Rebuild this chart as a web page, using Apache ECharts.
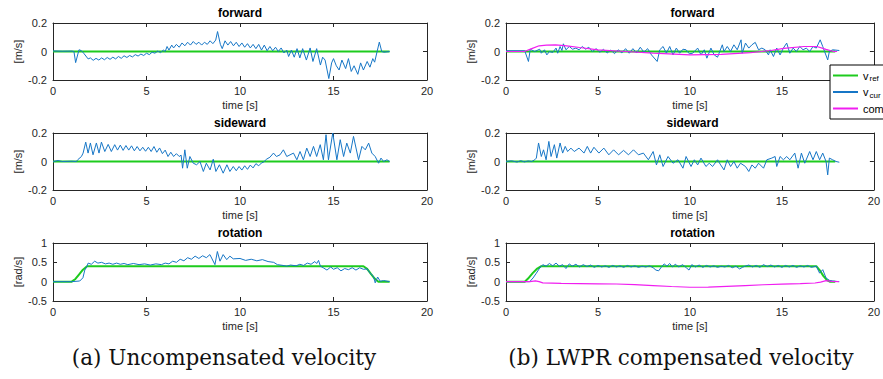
<!DOCTYPE html>
<html>
<head>
<meta charset="utf-8">
<script src="https://cdn.jsdelivr.net/npm/echarts@6/dist/echarts.min.js"></script>
<style>html,body{margin:0;padding:0;background:#fff}#c{width:883px;height:379px}</style>
</head>
<body>
<div id="c"></div>
<script>
// ---------- data (time [s], value) ----------
const panelTitles = ['forward', 'sideward', 'rotation'];
const yUnits = ['[m/s]', '[m/s]', '[rad/s]'];
const captions = ['(a) Uncompensated velocity', '(b) LWPR compensated velocity'];
const xTickValues = [0, 5, 10, 15, 20];

// (a) uncompensated
const refFwdA = [[0,0],[18,0]];
const curFwdA = [[0,0.004],[0.5,0.002],[1.0,0.003],[1.12,0],[1.21,-0.078],[1.39,0.012],[1.52,0.006],[1.64,-0.012],[1.88,-0.052],[2.0,-0.045],[2.15,-0.062],[2.3,-0.048],[2.45,-0.06],[2.6,-0.045],[2.75,-0.058],[2.9,-0.042],[3.05,-0.055],[3.2,-0.04],[3.35,-0.052],[3.5,-0.035],[3.65,-0.048],[3.8,-0.03],[3.95,-0.042],[4.1,-0.028],[4.25,-0.038],[4.4,-0.022],[4.55,-0.032],[4.7,-0.018],[4.85,-0.028],[5.0,-0.012],[5.15,-0.022],[5.3,-0.005],[5.45,-0.012],[5.6,0.003],[5.75,-0.008],[5.9,0.01],[6.0,0.0],[6.1,0.035],[6.2,0.01],[6.35,0.045],[6.45,0.025],[6.6,0.05],[6.75,0.03],[6.9,0.06],[7.05,0.04],[7.2,0.065],[7.35,0.045],[7.5,0.07],[7.65,0.05],[7.8,0.065],[7.95,0.045],[8.1,0.065],[8.25,0.05],[8.4,0.075],[8.55,0.055],[8.7,0.08],[8.8,0.14],[8.95,0.05],[9.05,0.02],[9.2,0.075],[9.35,0.045],[9.5,0.07],[9.65,0.04],[9.8,0.065],[9.95,0.035],[10.1,0.06],[10.25,0.03],[10.4,0.055],[10.55,0.025],[10.7,0.05],[10.85,0.02],[11.0,0.05],[11.15,0.01],[11.3,0.045],[11.45,0.005],[11.6,0.035],[11.75,0.005],[11.9,0.03],[12.05,0.0],[12.2,0.025],[12.35,-0.01],[12.5,0.01],[12.6,-0.035],[12.75,0.01],[12.9,-0.04],[13.05,0.02],[13.2,-0.045],[13.35,0.02],[13.55,-0.06],[13.75,0.025],[13.9,-0.07],[14.1,0.02],[14.3,-0.095],[14.42,-0.04],[14.55,-0.06],[14.75,-0.19],[14.9,-0.08],[15.0,-0.05],[15.15,-0.1],[15.3,-0.13],[15.45,-0.06],[15.65,-0.12],[15.8,-0.05],[15.95,-0.14],[16.1,-0.1],[16.3,-0.16],[16.45,-0.08],[16.6,-0.13],[16.8,-0.07],[16.95,-0.11],[17.1,-0.05],[17.2,-0.075],[17.35,0.01],[17.45,0.066],[17.58,0.0],[17.7,-0.005],[18.0,0.0]];
const refSideA = [[0,0],[18,0]];
const curSideA = [[0,0],[0.27,0.007],[0.5,0.0],[1.0,0.002],[1.25,0.0],[1.32,0.012],[1.52,0.035],[1.61,0.059],[1.75,0.136],[1.875,0.059],[2.0,0.13],[2.14,0.047],[2.32,0.13],[2.46,0.059],[2.59,0.136],[2.77,0.07],[2.95,0.12],[3.12,0.07],[3.3,0.118],[3.45,0.08],[3.6,0.115],[3.75,0.078],[3.9,0.112],[4.05,0.08],[4.2,0.11],[4.35,0.075],[4.5,0.105],[4.65,0.075],[4.8,0.1],[4.95,0.072],[5.1,0.1],[5.25,0.07],[5.4,0.105],[5.55,0.065],[5.7,0.095],[5.85,0.055],[6.0,0.08],[6.15,0.035],[6.3,0.065],[6.45,0.035],[6.6,0.055],[6.75,0.035],[6.85,0.045],[6.93,-0.047],[7.05,0.082],[7.18,-0.047],[7.32,0.035],[7.5,-0.012],[7.68,-0.023],[7.86,0.0],[8.04,-0.07],[8.2,-0.012],[8.4,-0.059],[8.57,0.016],[8.71,-0.07],[8.9,-0.023],[9.1,-0.082],[9.3,-0.023],[9.46,-0.07],[9.64,-0.035],[9.8,-0.065],[9.95,-0.035],[10.1,-0.06],[10.25,-0.03],[10.4,-0.055],[10.55,-0.025],[10.7,-0.045],[10.85,-0.015],[11.0,-0.03],[11.15,-0.01],[11.25,-0.005],[11.43,0.017],[11.6,0.03],[11.79,0.059],[11.95,0.035],[12.14,0.047],[12.32,0.082],[12.5,0.035],[12.86,0.059],[13.04,0.012],[13.21,0.07],[13.39,0.012],[13.57,0.094],[13.75,0.035],[13.93,0.106],[14.1,0.035],[14.29,0.118],[14.46,0.012],[14.6,0.188],[14.73,0.012],[14.96,0.2],[15.18,0.012],[15.36,0.153],[15.54,0.035],[15.71,0.129],[15.9,0.059],[16.07,0.176],[16.34,0.012],[16.52,0.106],[16.7,0.082],[16.88,0.129],[17.05,0.059],[17.23,0.035],[17.41,-0.012],[17.54,0.024],[17.68,0.0],[17.86,0.012],[18.0,0.0]];
const refRotA = [[0,0],[1.0,0],[1.2,0.07],[1.4,0.19],[1.6,0.31],[1.82,0.4],[16.6,0.4],[16.8,0.33],[17.0,0.2],[17.2,0.08],[17.4,0],[18,0]];
const curRotA = [[0,0],[1.0,0.0],[1.43,0.017],[1.6,0.1],[1.7,0.3],[1.82,0.4],[1.88,0.48],[2.05,0.45],[2.23,0.53],[2.4,0.48],[2.6,0.5],[2.8,0.46],[3.0,0.48],[3.2,0.45],[3.4,0.48],[3.6,0.45],[3.8,0.47],[4.0,0.44],[4.3,0.47],[4.6,0.44],[4.9,0.46],[5.2,0.43],[5.5,0.46],[5.8,0.44],[6.0,0.48],[6.2,0.46],[6.4,0.53],[6.6,0.5],[6.8,0.58],[7.0,0.54],[7.2,0.62],[7.4,0.58],[7.6,0.66],[7.8,0.6],[8.0,0.67],[8.2,0.62],[8.39,0.7],[8.66,0.44],[8.79,0.78],[8.93,0.53],[9.1,0.7],[9.29,0.57],[9.46,0.66],[9.64,0.59],[10.0,0.6],[10.3,0.55],[10.6,0.58],[10.9,0.54],[11.2,0.57],[11.5,0.52],[11.8,0.5],[12.0,0.44],[12.3,0.42],[12.5,0.4],[12.7,0.43],[13.0,0.41],[13.2,0.45],[13.4,0.42],[13.6,0.48],[13.8,0.45],[14.0,0.52],[14.1,0.47],[14.2,0.55],[14.3,0.4],[14.45,0.36],[14.65,0.3],[14.85,0.38],[15.0,0.32],[15.2,0.36],[15.4,0.28],[15.6,0.34],[15.8,0.31],[16.0,0.36],[16.2,0.3],[16.4,0.36],[16.6,0.32],[16.8,0.33],[16.96,0.22],[17.14,0.14],[17.23,-0.03],[17.36,0.12],[17.5,0.01],[17.68,0.03],[18.0,0.0]];

// (b) LWPR compensated
const refFwdB = [[0,0],[17.9,0]];
const curFwdB = [[0,0.005],[1.02,0.005],[1.22,-0.07],[1.32,0.016],[1.56,0],[1.83,0.016],[1.92,-0.012],[2.09,0.012],[2.22,-0.024],[2.36,0],[2.54,-0.007],[2.72,0.024],[2.81,-0.012],[2.94,0.035],[3.04,0.007],[3.12,0.054],[3.26,0.012],[3.44,0.035],[3.62,0.016],[3.8,0.024],[3.97,0.012],[4.15,0.035],[4.33,0.016],[4.5,0.03],[4.7,0.0],[4.9,0.02],[5.1,-0.005],[5.3,0.015],[5.5,-0.01],[5.7,0.01],[5.9,-0.015],[6.1,0.012],[6.3,-0.01],[6.5,0.02],[6.7,-0.012],[6.9,0.02],[7.1,-0.01],[7.3,0.03],[7.5,-0.005],[7.7,0.02],[7.91,-0.024],[8.22,-0.07],[8.36,0.012],[8.54,0.035],[8.72,-0.012],[8.9,0.035],[9.08,-0.024],[9.26,0.024],[9.44,-0.012],[9.62,0.016],[9.79,0.012],[9.97,-0.016],[10.15,-0.012],[10.42,0.024],[10.6,-0.024],[10.78,0.012],[10.92,-0.047],[11.14,0.024],[11.32,-0.024],[11.5,-0.04],[11.76,0.047],[11.85,0],[12.03,0.035],[12.21,0],[12.39,0.047],[12.57,0.012],[12.78,0.082],[12.84,-0.012],[13.02,0.059],[13.2,0.024],[13.37,0.047],[13.55,0.064],[13.73,0.012],[13.91,0.024],[14.09,0.012],[14.27,-0.024],[14.36,0.012],[14.54,-0.035],[14.72,0.024],[14.9,-0.024],[15.08,0.024],[15.26,0.059],[15.43,-0.012],[15.61,0.024],[15.79,0],[15.97,0.035],[16.15,0.012],[16.33,0.024],[16.51,0],[16.69,0.035],[16.87,0.024],[17.08,0.082],[17.22,0.035],[17.49,-0.059],[17.58,0],[17.76,0.012],[18.12,0.007]];
const compFwdB = [[0,0],[1.0,0.0],[1.4,0.02],[1.8,0.04],[2.2,0.045],[2.7,0.047],[3.3,0.04],[4.0,0.028],[5.0,0.012],[6.5,0.0],[8.0,-0.012],[10.0,-0.024],[11.7,-0.02],[13.3,-0.008],[14.4,0.007],[15.1,0.022],[16.2,0.035],[16.9,0.035],[17.4,0.015],[17.8,0.0],[18.0,0.0]];
const refSideB = [[0,0],[17.9,0]];
const curSideB = [[0,0],[0.3,0.005],[0.6,-0.004],[0.8,0.006],[1.0,-0.003],[1.2,0.004],[1.4,0.0],[1.56,0.012],[1.65,0.024],[1.77,0.13],[1.92,0.035],[2.04,0.082],[2.18,0.012],[2.33,0.141],[2.45,0.035],[2.63,0.118],[2.76,0.024],[2.94,0.13],[3.08,0.059],[3.22,0.106],[3.35,0.07],[3.53,0.094],[3.71,0.07],[3.97,0.094],[4.24,0.059],[4.42,0.106],[4.6,0.059],[4.78,0.1],[5.05,0.059],[5.32,0.094],[5.59,0.047],[5.85,0.082],[6.12,0.047],[6.39,0.078],[6.66,0.047],[6.93,0.082],[7.2,0.047],[7.47,0.059],[7.74,0.012],[8.0,0.07],[8.18,-0.024],[8.36,0.047],[8.54,-0.035],[8.81,0.035],[9.08,-0.012],[9.35,0.012],[9.62,-0.047],[9.79,0.035],[10.06,-0.035],[10.24,0.012],[10.42,-0.024],[10.6,0.024],[10.87,-0.035],[11.05,-0.012],[11.23,-0.035],[11.5,0.012],[11.67,-0.024],[11.85,-0.059],[12.03,0.012],[12.21,-0.035],[12.39,0],[12.57,-0.047],[12.75,-0.012],[13.02,-0.035],[13.2,-0.07],[13.37,-0.024],[13.55,-0.047],[13.73,-0.012],[14.0,-0.047],[14.18,0.012],[14.45,0.024],[14.63,0.035],[14.72,-0.035],[14.9,0.035],[15.08,0.012],[15.26,0.035],[15.43,0.012],[15.7,0.059],[15.88,-0.047],[16.06,0.059],[16.24,-0.012],[16.51,0.07],[16.69,0.012],[16.87,0.07],[17.05,0.012],[17.22,0.059],[17.4,0],[17.49,-0.094],[17.58,0.024],[17.76,0.012],[17.94,0],[18.12,-0.005]];
const refRotB = [[0,0],[1.02,0],[1.2,0.08],[1.45,0.22],[1.7,0.34],[1.92,0.4],[16.87,0.4],[17.05,0.3],[17.25,0.15],[17.45,0.04],[17.6,0],[17.9,0]];
const curRotB = [[0,0],[1.29,0],[1.47,0.095],[1.65,0.22],[1.83,0.35],[2.0,0.44],[2.18,0.4],[2.36,0.47],[2.54,0.41],[2.72,0.48],[2.9,0.4],[3.08,0.44],[3.26,0.34],[3.44,0.46],[3.6,0.4],[3.8,0.45],[4.0,0.38],[4.2,0.44],[4.4,0.39],[4.6,0.43],[4.8,0.37],[5.0,0.42],[5.2,0.38],[5.4,0.41],[5.6,0.37],[5.8,0.42],[6.0,0.38],[6.2,0.41],[6.4,0.37],[6.6,0.42],[6.8,0.38],[7.0,0.41],[7.2,0.37],[7.4,0.4],[7.6,0.38],[7.8,0.41],[8.0,0.36],[8.15,0.3],[8.3,0.28],[8.45,0.38],[8.6,0.46],[8.75,0.4],[8.9,0.47],[9.05,0.38],[9.2,0.45],[9.4,0.38],[9.6,0.44],[9.8,0.36],[9.95,0.3],[10.1,0.44],[10.3,0.38],[10.5,0.43],[10.7,0.37],[10.9,0.42],[11.1,0.38],[11.3,0.41],[11.5,0.37],[11.7,0.4],[11.9,0.38],[12.1,0.42],[12.3,0.36],[12.5,0.4],[12.7,0.33],[12.85,0.37],[13.0,0.4],[13.2,0.43],[13.4,0.38],[13.6,0.42],[13.8,0.37],[14.0,0.44],[14.2,0.39],[14.4,0.43],[14.6,0.38],[14.8,0.42],[15.0,0.37],[15.2,0.42],[15.4,0.38],[15.6,0.42],[15.8,0.37],[16.0,0.41],[16.2,0.38],[16.4,0.42],[16.6,0.37],[16.87,0.4],[17.05,0.22],[17.22,0.31],[17.4,0.095],[17.58,0.035],[17.76,0.017],[18.12,0]];
const compRotB = [[0,0],[1.3,0.0],[1.6,0.02],[1.8,0.0],[2.0,-0.03],[3.0,-0.045],[4.0,-0.05],[5.0,-0.055],[6.0,-0.06],[7.0,-0.075],[8.0,-0.1],[9.0,-0.125],[10.0,-0.145],[11.0,-0.14],[12.0,-0.12],[13.0,-0.1],[14.0,-0.08],[15.0,-0.065],[16.0,-0.05],[16.8,-0.035],[17.1,-0.01],[17.4,0.025],[17.7,0.01],[18.1,0.0]];

// ---------- layout ----------
const AX = '#262626';
const FONT = 'Liberation Sans, Arial, Helvetica, sans-serif';
const colLeft = [53, 506], colWidth = [374, 373];
const rowTop = [23, 133, 243], rowHeight = [57, 57, 58];
const yRange = [[-0.2, 0.2, 0.2], [-0.2, 0.2, 0.2], [-0.5, 1, 0.5]];

const panels = [
  {col: 0, row: 0, ref: refFwdA, cur: curFwdA},
  {col: 0, row: 1, ref: refSideA, cur: curSideA},
  {col: 0, row: 2, ref: refRotA, cur: curRotA},
  {col: 1, row: 0, ref: refFwdB, cur: curFwdB, comp: compFwdB},
  {col: 1, row: 1, ref: refSideB, cur: curSideB},
  {col: 1, row: 2, ref: refRotB, cur: curRotB, comp: compRotB}
];

const grid = [], xAxis = [], yAxis = [], series = [], graphic = [];
const tickStyle = {inside: true, length: 4, lineStyle: {color: AX, width: 1}};
const lineStyleAx = {show: true, onZero: false, lineStyle: {color: AX, width: 1}};

panels.forEach((p, i) => {
  grid.push({left: colLeft[p.col], top: rowTop[p.row], width: colWidth[p.col], height: rowHeight[p.row], containLabel: false});
  const xr = {min: xTickValues[0], max: xTickValues[xTickValues.length - 1], interval: 5};
  xAxis.push(Object.assign({type: 'value', gridIndex: i, position: 'bottom', axisLine: lineStyleAx, axisTick: tickStyle,
    axisLabel: {color: AX, fontSize: 11, fontFamily: FONT, margin: 5},
    splitLine: {show: false}, name: 'time [s]', nameLocation: 'middle', nameGap: 19,
    nameTextStyle: {color: AX, fontSize: 11, fontFamily: FONT}}, xr));
  xAxis.push(Object.assign({type: 'value', gridIndex: i, position: 'top', axisLine: lineStyleAx, axisTick: tickStyle,
    axisLabel: {show: false}, splitLine: {show: false}}, xr));
  const [ymin, ymax, yint] = yRange[p.row];
  const yr = {min: ymin, max: ymax, interval: yint};
  yAxis.push(Object.assign({type: 'value', gridIndex: i, position: 'left', axisLine: lineStyleAx, axisTick: tickStyle,
    axisLabel: {color: AX, fontSize: 11, fontFamily: FONT, margin: 6},
    splitLine: {show: false}, name: yUnits[p.row], nameLocation: 'middle', nameGap: 30, nameRotate: 90,
    nameTextStyle: {color: AX, fontSize: 11, fontFamily: FONT}}, yr));
  yAxis.push(Object.assign({type: 'value', gridIndex: i, position: 'right', axisLine: lineStyleAx, axisTick: tickStyle,
    axisLabel: {show: false}, splitLine: {show: false}}, yr));

  const xi = 2 * i, yi = 2 * i;
  series.push({name: 'vref', type: 'line', xAxisIndex: xi, yAxisIndex: yi, data: p.ref, showSymbol: false, symbol: 'none',
    lineStyle: {color: '#1ecb1e', width: 2}, itemStyle: {color: '#1ecb1e'}, z: 2});
  series.push({name: 'vcur', type: 'line', xAxisIndex: xi, yAxisIndex: yi, data: p.cur, showSymbol: false, symbol: 'none',
    lineStyle: {color: '#1676c6', width: 1}, itemStyle: {color: '#1676c6'}, z: 3});
  if (p.comp) {
    series.push({name: 'comp', type: 'line', xAxisIndex: xi, yAxisIndex: yi, data: p.comp, showSymbol: false, symbol: 'none',
      lineStyle: {color: '#f01ef0', width: 1.2}, itemStyle: {color: '#f01ef0'}, z: 4});
  }
  graphic.push({type: 'text', x: colLeft[p.col] + colWidth[p.col] / 2, y: rowTop[p.row] - 10,
    style: {text: panelTitles[p.row], fill: '#000', font: 'bold 12px ' + FONT, textAlign: 'center', textVerticalAlign: 'middle'}});
});

graphic.push({type: 'text', x: 224, y: 357, style: {text: captions[0], fill: '#111', font: '21.5px "DejaVu Serif", serif', textAlign: 'center', textVerticalAlign: 'middle'}});
graphic.push({type: 'text', x: 681, y: 357, style: {text: captions[1], fill: '#111', font: '21.5px "DejaVu Serif", serif', textAlign: 'center', textVerticalAlign: 'middle'}});

const chart = echarts.init(document.getElementById('c'), null, {renderer: 'svg'});
chart.setOption({
  animation: false,
  backgroundColor: '#fff',
  grid, xAxis, yAxis, series, graphic,
  legend: {
    data: ['vref', 'vcur', 'comp'], orient: 'vertical', left: 830, top: 65, selectedMode: false,
    icon: 'rect', itemWidth: 25, itemHeight: 2, itemGap: 4,
    padding: [5, 4, 5, 3], borderColor: '#000', borderWidth: 1, backgroundColor: '#fff', z: 20,
    textStyle: {color: '#000', fontSize: 11, fontFamily: FONT,
      rich: {v: {fontSize: 11, fontFamily: FONT, color: '#000'}, s: {fontSize: 8, fontFamily: FONT, color: '#000', padding: [6, 0, 0, 1]}}},
    formatter: function (name) { return name === 'comp' ? 'comp' : '{v|v}{s|' + name.slice(1) + '}'; }
  }
});
</script>
</body>
</html>
